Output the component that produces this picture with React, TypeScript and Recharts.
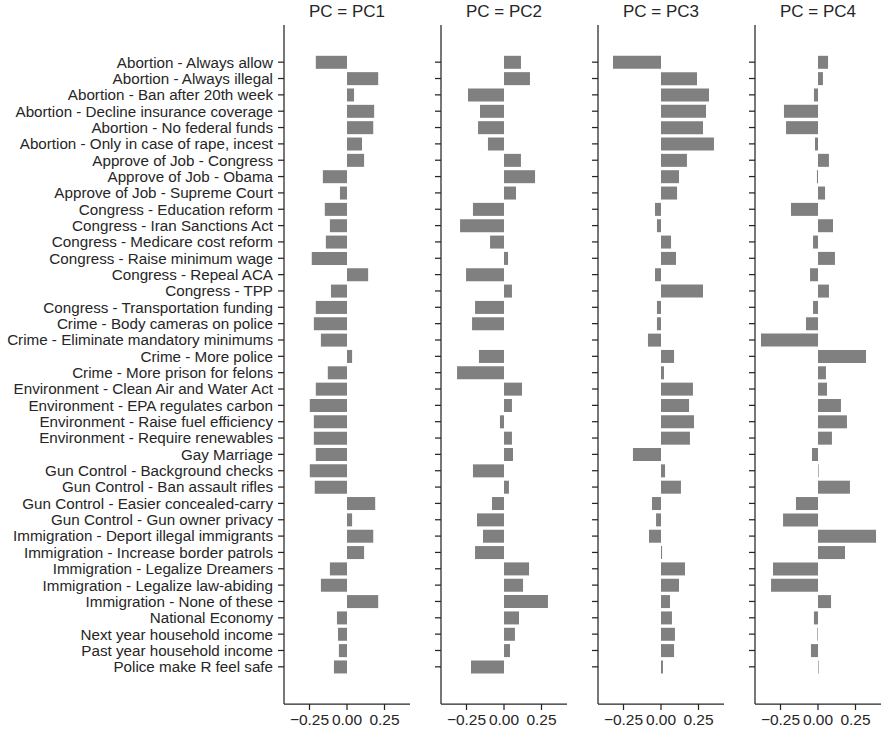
import React from "react";
import { BarChart, Bar, XAxis, YAxis } from "recharts";

const categories = [
  "Abortion - Always allow",
  "Abortion - Always illegal",
  "Abortion - Ban after 20th week",
  "Abortion - Decline insurance coverage",
  "Abortion - No federal funds",
  "Abortion - Only in case of rape, incest",
  "Approve of Job - Congress",
  "Approve of Job - Obama",
  "Approve of Job - Supreme Court",
  "Congress - Education reform",
  "Congress - Iran Sanctions Act",
  "Congress - Medicare cost reform",
  "Congress - Raise minimum wage",
  "Congress - Repeal ACA",
  "Congress - TPP",
  "Congress - Transportation funding",
  "Crime - Body cameras on police",
  "Crime - Eliminate mandatory minimums",
  "Crime - More police",
  "Crime - More prison for felons",
  "Environment - Clean Air and Water Act",
  "Environment - EPA regulates carbon",
  "Environment - Raise fuel efficiency",
  "Environment - Require renewables",
  "Gay Marriage",
  "Gun Control - Background checks",
  "Gun Control - Ban assault rifles",
  "Gun Control - Easier concealed-carry",
  "Gun Control - Gun owner privacy",
  "Immigration - Deport illegal immigrants",
  "Immigration - Increase border patrols",
  "Immigration - Legalize Dreamers",
  "Immigration - Legalize law-abiding",
  "Immigration - None of these",
  "National Economy",
  "Next year household income",
  "Past year household income",
  "Police make R feel safe",
];

const pc1 = [
  -0.208, 0.208, 0.047, 0.181, 0.175, 0.1, 0.114, -0.161, -0.047, -0.148, -0.114, -0.141, -0.235,
  0.141, -0.107, -0.208, -0.221, -0.174, 0.034, -0.128, -0.208, -0.248, -0.221, -0.221, -0.208,
  -0.248, -0.215, 0.188, 0.034, 0.175, 0.114, -0.114, -0.174, 0.208, -0.067, -0.06, -0.054, -0.087,
];
const pc2 = [
  0.113, 0.173, -0.24, -0.16, -0.173, -0.107, 0.113, 0.207, 0.08, -0.207, -0.293, -0.093, 0.027,
  -0.253, 0.053, -0.193, -0.213, 0.0, -0.167, -0.313, 0.12, 0.053, -0.027, 0.053, 0.06,
  -0.207, 0.033, -0.08, -0.18, -0.14, -0.193, 0.167, 0.127, 0.293, 0.1, 0.073, 0.04, -0.22,
];
const pc3 = [
  -0.32, 0.24, 0.32, 0.3, 0.28, 0.353, 0.173, 0.12, 0.107, -0.04, -0.027, 0.067, 0.1,
  -0.04, 0.28, -0.027, -0.027, -0.087, 0.087, 0.02, 0.213, 0.187, 0.22, 0.193, -0.187,
  0.027, 0.133, -0.06, -0.033, -0.08, 0.007, 0.16, 0.12, 0.06, 0.073, 0.093, 0.087, 0.013,
];
const pc4 = [
  0.067, 0.033, -0.027, -0.227, -0.213, -0.02, 0.073, -0.007, 0.047, -0.18, 0.1, -0.033, 0.113,
  -0.053, 0.073, -0.033, -0.08, -0.38, 0.32, 0.053, 0.06, 0.153, 0.193, 0.093, -0.04,
  0.004, 0.213, -0.147, -0.233, 0.387, 0.18, -0.3, -0.313, 0.087, -0.027, -0.004, -0.047, 0.004,
];

const panels = [
  { title: "PC = PC1", values: pc1 },
  { title: "PC = PC2", values: pc2 },
  { title: "PC = PC3", values: pc3 },
  { title: "PC = PC4", values: pc4 },
];

const xTicks = [-0.25, 0, 0.25];
const xDomain: [number, number] = [-0.42, 0.42];

const FONT = "'Liberation Sans', Arial, sans-serif";
const INK = "#262626";

const fmt = (v: number) => {
  const s = Math.abs(v).toFixed(2);
  return v < 0 ? "\u2212" + s : s;
};

const SPINE0 = 284;
const STEP = 157;
const PLOT_W = 126;
const PLOT_TOP = 25;
const PLOT_BOTTOM = 704;
const H = 738;

const EmptyTick = () => <g />;

export default function App() {
  return (
    <div
      style={{
        position: "absolute",
        left: 0,
        top: 0,
        width: 894,
        height: 738,
        background: "#fff",
        fontFamily: FONT,
      }}
    >
      {panels.map((p, i) => {
        const spine = SPINE0 + i * STEP;
        const yw = i === 0 ? SPINE0 - 1 : 10;
        const left = spine - yw;
        const data = categories.map((c, k) => ({ name: c, v: p.values[k] }));
        return (
          <React.Fragment key={p.title}>
            <div
              style={{
                position: "absolute",
                left: spine,
                width: PLOT_W,
                top: 2,
                textAlign: "center",
                fontSize: 17,
                color: INK,
                lineHeight: "20px",
              }}
            >
              {p.title}
            </div>
            <div style={{ position: "absolute", left, top: 0 }}>
              <BarChart
                width={yw + PLOT_W + 4}
                height={H}
                data={data}
                layout="vertical"
                margin={{ top: PLOT_TOP, right: 4, bottom: 0, left: 0 }}
                barCategoryGap="11%"
              >
                <XAxis
                  type="number"
                  domain={xDomain}
                  ticks={xTicks}
                  allowDataOverflow
                  tickFormatter={fmt}
                  height={H - PLOT_BOTTOM}
                  tickSize={6}
                  tickMargin={4}
                  stroke={INK}
                  strokeWidth={1.25}
                  tick={{ fill: INK, fontSize: 15.5, fontFamily: FONT }}
                />
                <YAxis
                  type="category"
                  dataKey="name"
                  width={yw}
                  interval={0}
                  padding={{ top: 29, bottom: 29 }}
                  tickSize={6}
                  tickMargin={5}
                  stroke={INK}
                  strokeWidth={1.25}
                  tick={i === 0 ? { fill: INK, fontSize: 15.2, fontFamily: FONT } : EmptyTick}
                />
                <Bar dataKey="v" fill="#808080" isAnimationActive={false} />
              </BarChart>
            </div>
          </React.Fragment>
        );
      })}
    </div>
  );
}
